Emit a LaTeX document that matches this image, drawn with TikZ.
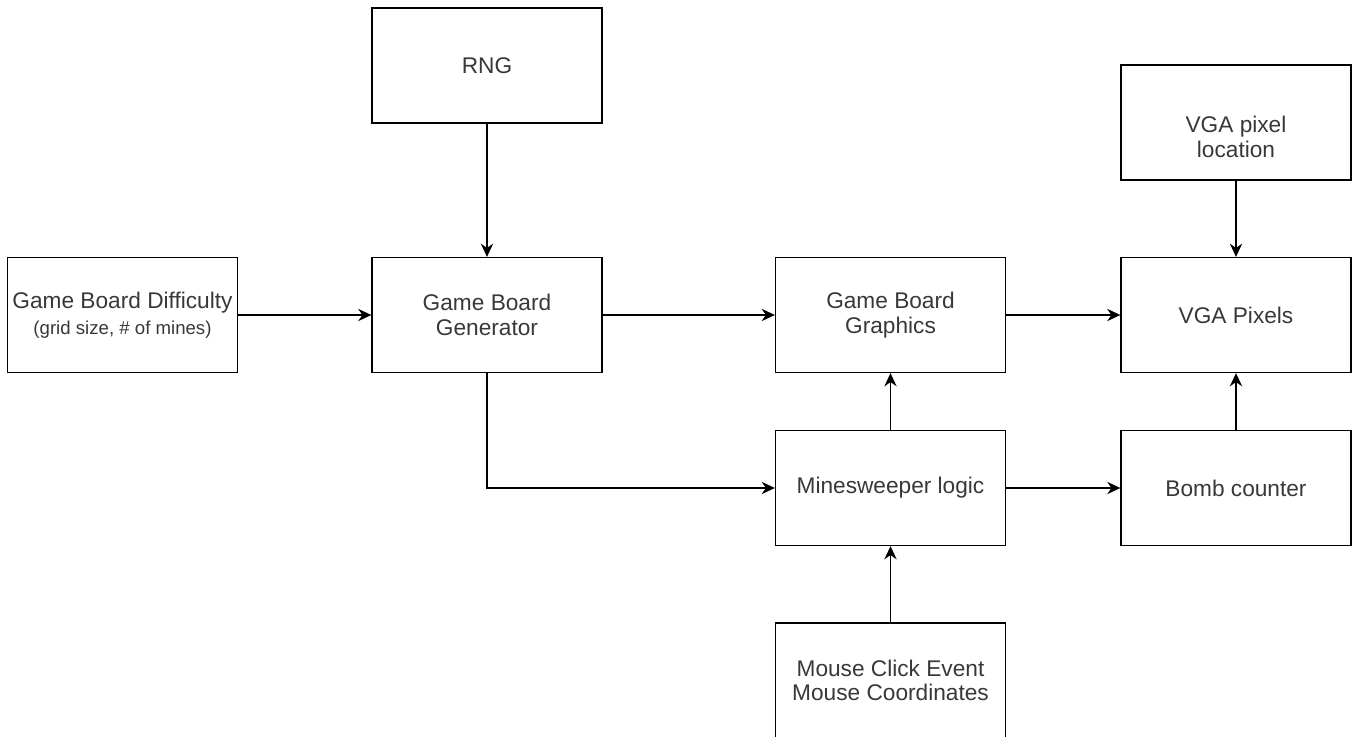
\documentclass[tikz,border=0pt]{standalone}
\usepackage{fontspec}
\setmainfont{Liberation Sans}
\usepackage{tikz}
\usetikzlibrary{arrows.meta}

\begin{document}
\begin{tikzpicture}[
  block/.style={draw, line width=0.75pt, minimum width=4.6cm, minimum height=2.3cm,
    inner sep=0pt, align=center, text=black!78, font=\fontsize{12.9}{14}\selectfont},
  flow/.style={line width=0.75pt, -{Stealth[length=7.5pt,width=7pt]}}
]
\useasboundingbox (0,0) rectangle (27.08,-14.72);

\node[block] (rng) at (9.74,-1.31) {RNG};
\node[block] (diff) at (2.45,-6.3) {Game Board Difficulty\\[1pt]{\fontsize{10.6}{12}\selectfont (grid size, \# of mines)}};
\node[block] (gen) at (9.74,-6.3) {Game Board\\Generator};
\node[block] (gfx) at (17.81,-6.3) {Game Board\\Graphics};
% text sits a little low in this box
\node[block] (loc) at (24.72,-2.45) {\rule{0pt}{26pt}VGA pixel\\location};
\node[block] (vga) at (24.72,-6.3) {VGA Pixels};
\node[block] (logic) at (17.81,-9.76) {Minesweeper logic};
\node[block] (bomb) at (24.72,-9.76) {Bomb counter};
\node[block] (mouse) at (17.81,-13.61) {Mouse Click Event\\Mouse Coordinates};

\draw[flow] (diff) -- (gen);
\draw[flow] (rng) -- (gen);
\draw[flow] (gen) -- (gfx);
\draw[flow] (gen.south) |- (logic.west);
\draw[flow] (logic) -- (gfx);
\draw[flow] (gfx) -- (vga);
\draw[flow] (loc) -- (vga);
\draw[flow] (logic) -- (bomb);
\draw[flow] (bomb) -- (vga);
\draw[flow] (mouse) -- (logic);

\end{tikzpicture}
\end{document}
